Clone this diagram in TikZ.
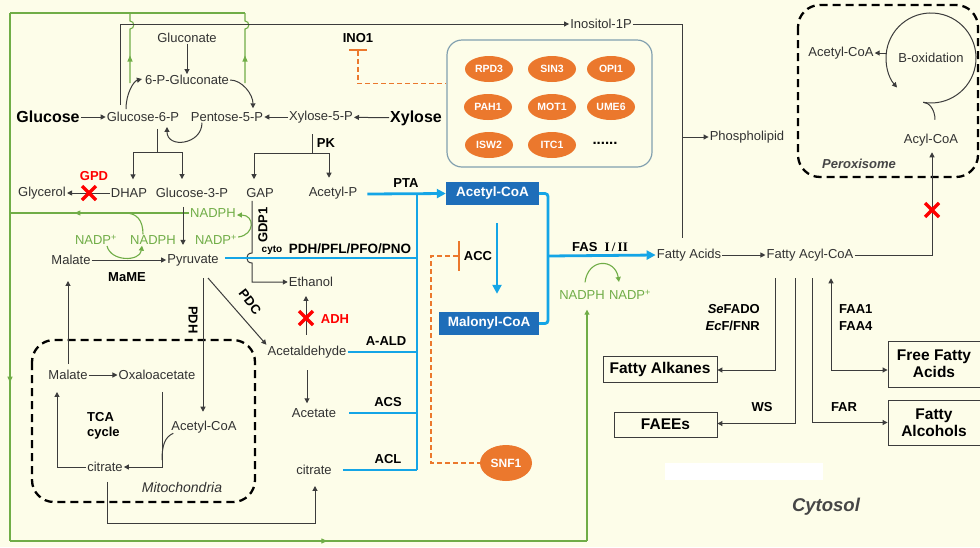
\documentclass[tikz,border=0pt]{standalone}
\usepackage{fontspec}
\setmainfont{Liberation Sans}
\newfontfamily\serifbf{Liberation Serif}
\usetikzlibrary{arrows.meta,shapes.geometric,calc,decorations.markings}
\definecolor{cream}{RGB}{253,253,233}
\definecolor{txt}{RGB}{50,50,50}
\definecolor{lin}{RGB}{60,60,60}
\definecolor{grn}{RGB}{112,173,71}
\definecolor{bl}{RGB}{20,165,230}
\definecolor{dblue}{RGB}{30,110,185}
\definecolor{orng}{RGB}{235,120,45}
\definecolor{grpb}{RGB}{130,160,175}
\definecolor{itgray}{RGB}{70,70,70}
\newcommand\fsz[2]{\fontsize{#1}{#2}\selectfont}
\begin{document}
\begin{tikzpicture}[x=1pt,y=-1pt,
  lab/.style={font=\fsz{13}{15},text=txt,inner sep=1pt},
  blab/.style={font=\bfseries\fsz{13}{15},text=black,inner sep=1pt},
  glab/.style={font=\fsz{13}{15},text=grn,inner sep=1pt},
  rlab/.style={font=\bfseries\fsz{13}{15},text=red,inner sep=1pt},
  biglab/.style={font=\bfseries\fsz{16}{18},text=black,inner sep=1pt},
  itlab/.style={font=\bfseries\itshape\fsz{13}{15},text=itgray,inner sep=1pt},
  ln/.style={draw=lin,line width=1pt},
  arr/.style={ln,-{Triangle[length=5pt,width=5pt]}},
  darr/.style={ln,{Triangle[length=5pt,width=5pt]}-{Triangle[length=5pt,width=5pt]}},
  gline/.style={grn,line width=1.1pt},
  garr/.style={gline,-{Triangle[length=5pt,width=5pt]}},
  midarr/.style={postaction={decorate},decoration={markings,mark=at position #1 with {\arrow{Triangle[length=6pt,width=5pt]}}}},
  bline/.style={draw=bl,line width=2.8pt},
  barr/.style={bline,-{Triangle[length=9pt,width=9pt]}},
  odash/.style={draw=orng,line width=1.6pt,dash pattern=on 5pt off 3pt},
  obar/.style={draw=orng,line width=2.2pt},
  orn/.style={ellipse,fill=orng,text=white,font=\bfseries\fsz{10.5}{12},minimum width=48pt,minimum height=26pt,inner sep=0pt},
  prod/.style={draw=lin,fill=cream,line width=0.9pt,font=\bfseries\fsz{15.5}{17},align=center,text=black,inner sep=0pt},
  dbox/.style={fill=dblue,text=white,font=\bfseries\fsz{13.5}{15},inner sep=0pt},
  comp/.style={draw=black,line width=2.3pt,dash pattern=on 8pt off 5pt,rounded corners=22pt},
  redx/.style={draw=red,line width=3.5pt},
]
\useasboundingbox (0,0) rectangle (980,547);
\fill[cream] (0,0) rectangle (980,547);
\fill[white] (665,463) rectangle (823,480);

% compartments
\draw[comp] (32,340) rectangle (255,502);
\draw[comp] (798,5) rectangle (978,177);

% ---------- nodes ----------
\node[biglab] (glucose) at (48,117) {Glucose};
\node[lab] (g6p) at (143,117) {Glucose-6-P};
\node[lab] (p5p) at (227,117) {Pentose-5-P};
\node[lab] (x5p) at (321,117) {Xylose-5-P};
\node[biglab] (xylose) at (416,118) {Xylose};
\node[lab] (gluconate) at (187,38) {Gluconate};
\node[lab] (pglu) at (187,80) {6-P-Gluconate};
\node[lab] (glycerol) at (42,193) {Glycerol};
\node[lab] (dhap) at (129,193) {DHAP};
\node[lab] (g3p) at (192,193) {Glucose-3-P};
\node[lab] (gap) at (260,193) {GAP};
\node[lab] (acp) at (333,193) {Acetyl-P};
\node[glab] (nadph1) at (213,213) {NADPH};
\node[glab] (nadp1) at (96,240) {NADP\textsuperscript{+}};
\node[glab] (nadph2) at (153,240) {NADPH};
\node[glab] (nadp2) at (216,240) {NADP\textsuperscript{+}};
\node[lab] (malate) at (71,260) {Malate};
\node[lab] (pyruvate) at (193,260) {Pyruvate};
\node[blab] (mame) at (127,277) {MaME};
\node[lab] (ethanol) at (311,282) {Ethanol};
\node[lab] (acetaldehyde) at (307,352) {Acetaldehyde};
\node[lab] (acetate) at (314,413) {Acetate};
\node[lab] (citrate) at (314,470) {citrate};
\node[lab] (mmalate) at (68,375) {Malate};
\node[lab] (oaa) at (157,375) {Oxaloacetate};
\node[lab] (macoa) at (204,427) {Acetyl-CoA};
\node[lab] (mcitrate) at (105,467) {citrate};
\node[blab,align=left,anchor=west] (tca) at (86,426) {TCA\\cycle};
\node[lab,font=\itshape\fsz{14}{16}] (mitolab) at (182,487) {Mitochondria};
\node[lab] (inositol) at (601,24) {Inositol-1P};
\node[lab] (phospholipid) at (747,137) {Phospholipid};
\node[lab] (peracetyl) at (841,53) {Acetyl-CoA};
\node[lab] (boxid) at (931,58) {B-oxidation};
\node[lab] (acylcoa) at (931,140) {Acyl-CoA};
\node[itlab] (perlab) at (859,164) {Peroxisome};
\node[dbox,minimum width=93pt,minimum height=23pt] (acoa) at (492.5,193.5) {Acetyl-CoA};
\node[dbox,minimum width=100pt,minimum height=23pt] (mcoa) at (489,323.5) {Malonyl-CoA};
\node[lab] (fattyacids) at (689,255) {Fatty Acids};
\node[lab] (facoa) at (810,255) {Fatty Acyl-CoA};
\node[glab] (nadph3) at (582,295) {NADPH};
\node[glab] (nadp3) at (630,295) {NADP\textsuperscript{+}};
\node[prod,minimum width=114pt,minimum height=26pt] (alk) at (660,369) {Fatty Alkanes};
\node[prod,minimum width=103pt,minimum height=25pt] (faees) at (665.5,424.5) {FAEEs};
\node[prod,minimum width=92pt,minimum height=46pt] (ffa) at (934,364) {Free Fatty\\Acids};
\node[prod,minimum width=92pt,minimum height=45pt] (falc) at (934,422.5) {Fatty\\Alcohols};
\node[itlab,font=\bfseries\itshape\fsz{18.5}{20}] (cytosol) at (826,507) {Cytosol};

% regulators
\node[draw=grpb,line width=1.2pt,rounded corners=15pt,minimum width=205pt,minimum height=127pt] (grp) at (549.5,103.5) {};
\node[orn] (rpd3) at (489,69) {RPD3};
\node[orn] (sin3) at (552,69) {SIN3};
\node[orn] (opi1) at (611,69) {OPI1};
\node[orn] (pah1) at (488,107) {PAH1};
\node[orn] (mot1) at (552,107) {MOT1};
\node[orn] (ume6) at (611,107) {UME6};
\node[orn] (isw2) at (489,145) {ISW2};
\node[orn] (itc1) at (552,145) {ITC1};
\node[blab,font=\bfseries\fsz{15}{16}] (dots) at (605,143) {......};
\node[orn,minimum width=52pt,minimum height=36pt,font=\bfseries\fsz{12}{14}] (snf1) at (506,463) {SNF1};
\node[blab] (ino1) at (358,38) {INO1};
\node[blab] (acc) at (478,256) {ACC};

% enzyme labels
\node[rlab] (gpd) at (94,176) {GPD};
\node[blab] (pk) at (326,143) {PK};
\node[blab] (pta) at (406,183) {PTA};
\node[blab,rotate=90] (gdp1) at (263,225) {GDP1};
\node[blab,font=\bfseries\fsz{10}{12}] (cyto) at (272,250) {cyto};
\node[blab,font=\bfseries\fsz{13.5}{15}] (pdhs) at (350,249) {PDH/PFL/PFO/PNO};
\node[blab,rotate=-90] (pdh) at (193,320) {PDH};
\node[blab,rotate=-52] (pdc) at (250,302) {PDC};
\node[rlab] (adh) at (335,319) {ADH};
\node[blab] (aald) at (386,341) {A-ALD};
\node[blab] (acs) at (388,402) {ACS};
\node[blab] (acl) at (388,459) {ACL};
\node[blab] (fas) at (600,247) {FAS\ \ {\serifbf I\,/\,II}};
\node[blab,anchor=east] (sefado) at (761,309) {\textit{Se}FADO};
\node[blab,anchor=east] (ecf) at (761,326) {\textit{Ec}F/FNR};
\node[blab,anchor=west] (faa1) at (838,309) {FAA1};
\node[blab,anchor=west] (faa4) at (838,326) {FAA4};
\node[blab] (ws) at (762,407) {WS};
\node[blab] (far) at (844,407) {FAR};

% ---------- green cofactor lines ----------
\draw[gline,midarr=0.37] (130,83) -- (130,29) .. controls (135,29) and (135,21) .. (130,21) -- (130,13);
\draw[gline,midarr=0.37] (245,83) -- (245,29) .. controls (250,29) and (250,21) .. (245,21) -- (245,13);
\draw[gline] (245,13) -- (10,13);
\draw[gline,midarr=0.7] (10,13) -- (10,541);
\draw[gline,midarr=0.55] (10,541) -- (587,541);
\draw[garr] (587,541) -- ($(nadph3.south)+(5,9)$);
\draw[gline,midarr=0.64] (nadph1.west) -- (10,213);
\draw[gline] ($(nadph2.north)+(-10,0)$) .. controls +(0,-14) and +(12,0) .. (125,213);
\draw[garr] ($(nadp1.south)+(11,0)$) .. controls +(4,16) and +(-2,16) .. ($(nadph2.south)+(-11,0)$);
\draw[garr] ($(nadp2.east)+(0,-3)$) .. controls (255,235) and (255,215) .. ($(nadph1.east)+(0,2)$);
\draw[garr] ($(nadph3.north)+(3,-7)$) .. controls (588,258) and (615,258) .. ($(nadp3.north)+(-11,-7)$);

% ---------- grey connectors ----------
\draw[arr] ($(g6p.north)+(-23,-6)$) |- (inositol.west);
\draw[ln] (inositol.east) -| ($(fattyacids.north)+(-7,-10)$);
\coordinate (pj) at (682,137);
\draw[arr] (pj) -- (phospholipid.west);
\draw[arr] (glucose) -- (g6p);
\draw[arr] (xylose) -- (x5p);
\draw[arr] (x5p) -- (p5p);
\draw[arr] (gluconate) -- (pglu);
\draw[arr] ($(g6p.north)+(-17,-2)$) .. controls +(0,-16) and +(-8,2) .. ($(pglu.west)+(-2,-1)$);
\draw[arr] (pglu.east) .. controls +(12,0) and +(0,-14) .. ($(p5p.north)+(26,-3)$);
\draw[arr] ($(p5p.south)+(-25,0)$) .. controls +(0,22) and +(0,22) .. ($(g6p.south)+(24,4)$);
% G6P branches
\coordinate (gj) at (157,152);
\coordinate (gl) at (133,152);
\coordinate (gr) at (182,152);
\draw[ln] ($(g6p.south)+(14,6)$) -- (gj);
\draw[ln] (gl) -- (gr);
\draw[arr] (gl) -- ($(dhap.north)+(4,-8)$);
\draw[arr] (gr) -- ($(g3p.north)+(-10,-8)$);
% PK branches
\coordinate (pkj) at (312,153);
\coordinate (pkl) at (254,153);
\coordinate (pkr) at (329,153);
\draw[ln] ($(x5p.south)+(-9,10)$) -- (pkj);
\draw[ln] (pkl) -- (pkr);
\draw[arr] (pkl) -- ($(gap.north)+(-6,-8)$);
\draw[arr] (pkr) -- ($(acp.north)+(-4,-8)$);
\draw[arr] (dhap) -- (glycerol);
\draw[arr] ($(g3p.south)+(-9,8)$) -- ($(pyruvate.north)+(-10,-8)$);
\draw[arr] (malate) -- (pyruvate);
% GDP1 line to ethanol with bridge
\draw[arr] ($(gap.south)+(-8,2)$) -- (252,253) .. controls (245,253) and (245,263) .. (252,263) |- (ethanol.west);
% pyruvate down
\draw[arr] ($(pyruvate.south)+(10,11)$) -- ($(macoa.north)+(-1,-8)$);
\draw[arr] ($(pyruvate.south)+(15,11)$) -- (acetaldehyde.north west);
\draw[arr] ($(acetaldehyde.north)+(-1,-10)$) -- ($(ethanol.south)+(-5,8)$);
\draw[arr] ($(acetaldehyde.south)+(0,11)$) -- ($(acetate.north)+(-7,-4)$);
% mitochondria
\draw[arr] (mmalate) -- (oaa);
\draw[arr] ($(mmalate.north)+(0,-5)$) -- ($(malate.south)+(-3,15)$);
\draw[arr] ($(oaa.south)+(5,11)$) |- (mcitrate.east);
\draw[ln] ($(macoa.south west)+(3,-1)$) .. controls (165,437) and (162,445) .. (162,460);
\draw[arr] (mcitrate.west) -| ($(mmalate.south)+(-11,11)$);
\draw[arr] ($(mcitrate.south)+(2,9)$) -- (107,523) -| ($(citrate.south)+(1,10)$);

% ---------- blue lines ----------
\coordinate (tt) at (417,194);
\coordinate (tb) at (417,470);
\draw[bline] (tt) -- (tb);
\draw[barr] ($(acp.east)+(9,1)$) -- (acoa.west);
\draw[bline] ($(pyruvate.east)+(5,-2)$) -- (417,258);
\draw[bline] (acetaldehyde.east) -- (417,352);
\draw[bline] ($(acetate.east)+(12,0)$) -- (417,413);
\draw[bline] ($(citrate.east)+(10,0)$) -- (tb);
\draw[barr] ($(acoa.south)+(4.5,18)$) -- ($(mcoa.north)+(8,-18)$);
\draw[bline,rounded corners=3pt] (acoa.east) -- (548,193.5) -- (548,323.5) -- (mcoa.east);
\draw[barr] (548,256) -- (fattyacids.west);

% ---------- orange regulation ----------
\draw[obar] ($(ino1.south)+(-9,6)$) -- ($(ino1.south)+(9,6)$);
\draw[odash] ($(ino1.south)+(0,7)$) |- ($(grp.west)+(0,-20)$);
\draw[obar] ($(acc.west)+(-4,-15)$) -- ($(acc.west)+(-4,15)$);
\draw[odash] ($(acc.west)+(-5,0)$) -- (431,256) |- (snf1.west);

% ---------- fatty acid branch ----------
\draw[arr] (fattyacids) -- (facoa);
\draw[arr] (facoa.east) -| ($(acylcoa.south)+(1,5)$);
\draw[arr] ($(facoa.south)+(-35,16)$) |- ($(alk.east)+(0,1)$);
\draw[arr] ($(facoa.south)+(-15,16)$) |- ($(faees.east)+(0,-1)$);
\draw[arr] ($(facoa.south)+(2,16)$) |- (falc.west);
\draw[darr] ($(facoa.south)+(21,16)$) |- ($(ffa.west)+(0,6)$);

% peroxisome cycle
\draw[arr] ($(boxid)+(-7.8,44.3)$) arc[start angle=100,end angle=-221,radius=45];
\draw[ln] ($(acylcoa.north)+(4,-13)$) .. controls +(0,-10) and +(6,0) .. ($(boxid)+(-7.8,44.3)$);
\draw[arr] ($(boxid)+(-44,-5)$) -- (peracetyl.east);

% red crosses
\foreach \p in {(89,193),(306,318),(932,210)}{
  \draw[redx] \p ++(-7,-7) -- ++(14,14);
  \draw[redx] \p ++(7,-7) -- ++(-14,14);
}
\end{tikzpicture}
\end{document}
